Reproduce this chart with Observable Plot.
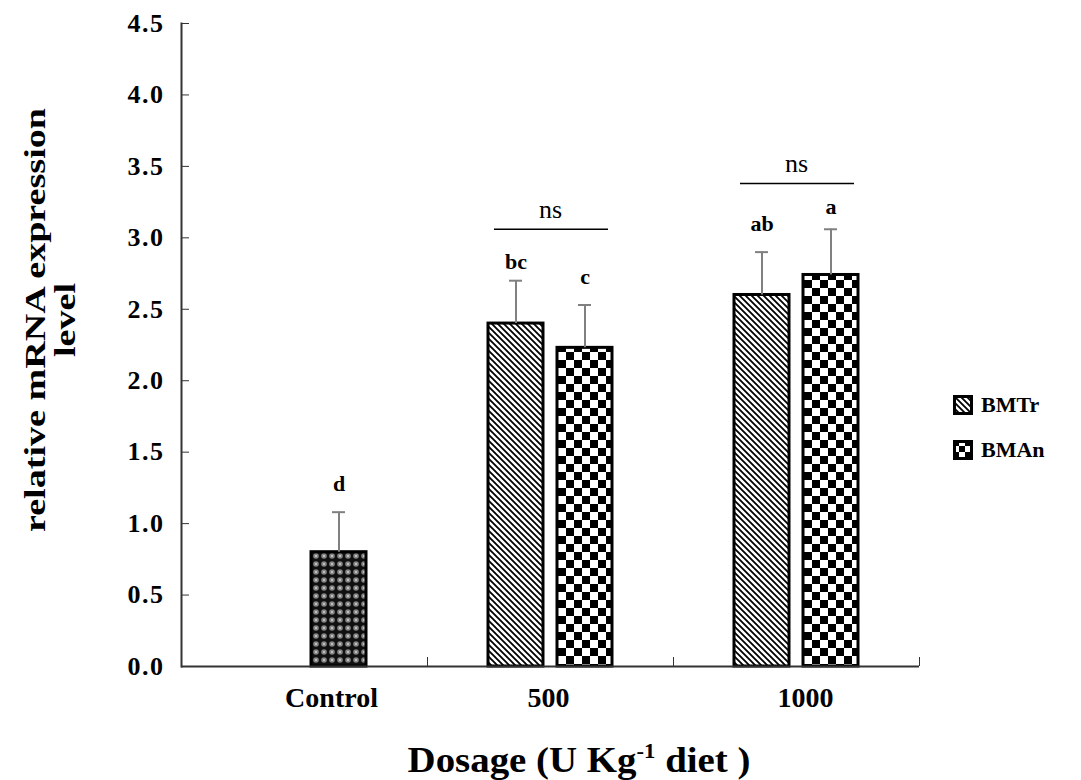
<!DOCTYPE html>
<html><head><meta charset="utf-8">
<script src="https://cdn.jsdelivr.net/npm/d3@7"></script>
<script src="https://cdn.jsdelivr.net/npm/@observablehq/plot@0.6"></script>
<style>
body{margin:0;background:#fff;}
#wrap{position:relative;width:1081px;height:780px;font-family:"Liberation Serif","Times New Roman",serif;color:#000;}
#wrap svg.plot{position:absolute;left:0;top:0;}
#wrap svg.plot g[aria-label="y-axis tick label"]{letter-spacing:1.5px;}
#ytitle{position:absolute;left:50px;top:320px;width:480px;text-align:center;font-weight:bold;font-size:30px;line-height:30px;transform:translate(-50%,-50%) rotate(-90deg) scaleX(1.27);white-space:nowrap;}
#xtitle{position:absolute;left:579px;top:740px;font-weight:bold;font-size:36px;line-height:40px;transform:translateX(-50%) scaleX(1.08);white-space:nowrap;}
#xtitle sup{font-size:21px;vertical-align:0;position:relative;top:-14px;}
#legend{position:absolute;left:953px;top:394px;font-weight:bold;font-size:22px;}
#legend .row{display:flex;align-items:center;height:22px;margin-bottom:23px;}
#legend svg{margin-right:8px;}
</style></head><body>
<svg width="0" height="0" style="position:absolute"><defs>
 <pattern id="pControl" patternUnits="userSpaceOnUse" width="8" height="8">
   <rect width="8" height="8" fill="#101010"/>
   <circle cx="4" cy="4" r="2.8" fill="#858585"/>
   <circle cx="4" cy="4" r="0.9" fill="#d8d8d8"/>
 </pattern>
 <pattern id="pBMTr" patternUnits="userSpaceOnUse" width="6" height="6">
   <rect width="6" height="6" fill="#fff"/>
   <path d="M-1,-1L7,7M-1,5L1,7M5,-1L7,1" stroke="#000" stroke-width="1.8"/>
 </pattern>
 <pattern id="pBMAn" patternUnits="userSpaceOnUse" width="16" height="16">
   <rect width="16" height="16" fill="#fff"/>
   <rect width="8" height="8" fill="#000"/>
   <rect x="8" y="8" width="8" height="8" fill="#000"/>
 </pattern>
 <pattern id="pBMAnLegend" patternUnits="userSpaceOnUse" width="12" height="12">
   <rect width="12" height="12" fill="#fff"/>
   <rect width="6" height="6" fill="#000"/>
   <rect x="6" y="6" width="6" height="6" fill="#000"/>
 </pattern>
</defs></svg>
<div id="wrap">
  <div id="ytitle">relative mRNA expression<br>level</div>
  <div id="xtitle">Dosage (U Kg<sup>-1</sup> diet )</div>
  <div id="legend"></div>
</div>
<script>
// ---- data ----
const categories = ["Control", "500", "1000"];
const doses = ["Control", "500", "500", "1000", "1000"];
const seriesNames = ["Control", "BMTr", "BMAn", "BMTr", "BMAn"];
const means = [0.80, 2.40, 2.23, 2.60, 2.74];
const errors = [0.28, 0.30, 0.30, 0.30, 0.32];
const letters = ["d", "bc", "c", "ab", "a"];
const letterY = [1.23, 2.78, 2.68, 3.05, 3.17];
const nsDoses = ["500", "1000"];
const nsLineY = [3.06, 3.38];
const nsTextY = [3.14, 3.46];
const yTicks = [0, 0.5, 1.0, 1.5, 2.0, 2.5, 3.0, 3.5, 4.0, 4.5];
const legendSeries = ["BMTr", "BMAn"];
const slotOf = {Control: "BMAn", BMTr: "BMTr", BMAn: "BMAn"};

const bars = doses.map((d, i) => ({
  dose: d, series: seriesNames[i], mean: means[i], upper: means[i] + errors[i],
  letter: letters[i], letterY: letterY[i]
}));
const ns = nsDoses.map((d, i) => ({dose: d, lineY: nsLineY[i], textY: nsTextY[i]}));

const axisColor = "#333";
const slot = d => slotOf[d.series];
const catLabel = {anchor: "bottom", tickSize: 0, tickPadding: 21, fontSize: 28, fontWeight: "bold", label: null};
const catTick = {anchor: "bottom", tickSize: 9, dy: -9, tickFormat: () => "", stroke: axisColor, label: null};

const chart = Plot.plot({
  width: 1081, height: 780,
  marginLeft: 181, marginRight: 162, marginTop: 23, marginBottom: 114,
  fx: {domain: categories, paddingInner: 0, paddingOuter: 0, label: null},
  x: {domain: ["BMTr", "BMAn"], paddingInner: 0.2, paddingOuter: 0.88, axis: null},
  y: {domain: [0, 4.5], axis: null},
  color: {type: "identity"},
  style: {fontFamily: "'Liberation Serif', 'Times New Roman', serif", background: "transparent", color: "#000"},
  marks: [
    Plot.barY(bars, {fx: "dose", x: slot, y: "mean", fill: d => `url(#p${d.series})`, stroke: "#000", strokeWidth: 3}),
    Plot.ruleX(bars, {fx: "dose", x: slot, y1: "mean", y2: "upper", stroke: "#808080", strokeWidth: 2}),
    Plot.tickY(bars, {fx: "dose", x: slot, y: "upper", stroke: "#808080", strokeWidth: 2, insetLeft: 21, insetRight: 21}),
    Plot.text(bars, {fx: "dose", x: slot, y: "letterY", text: "letter", lineAnchor: "bottom", fontSize: 22, fontWeight: "bold"}),
    Plot.ruleY(ns, {fx: "dose", y: "lineY", x1: () => "BMTr", x2: () => "BMAn", stroke: "#000", strokeWidth: 1.5, insetLeft: 6, insetRight: 4}),
    Plot.text(ns, {fx: "dose", y: "textY", text: () => "ns", lineAnchor: "bottom", fontSize: 26}),
    Plot.ruleY([0], {stroke: axisColor, strokeWidth: 2}),
    Plot.frame({anchor: "left", facetAnchor: "left", stroke: axisColor, strokeWidth: 2}),
    Plot.axisY({ticks: yTicks, tickFormat: d3.format(".1f"), tickSize: 8, dx: 8, tickPadding: 17, stroke: axisColor, fontSize: 26, fontWeight: "bold", label: null}),
    Plot.axisFx({...catTick, ticks: categories, dx: -123}),
    Plot.axisFx({...catTick, ticks: ["1000"], dx: 123}),
    Plot.axisFx({...catLabel, ticks: ["Control"], dx: 27}),
    Plot.axisFx({...catLabel, ticks: ["500"], dx: -2}),
    Plot.axisFx({...catLabel, ticks: ["1000"], dx: 9})
  ]
});
chart.classList.add("plot");
const wrap = document.getElementById("wrap");
wrap.insertBefore(chart, wrap.firstChild);

const legend = document.getElementById("legend");
legendSeries.forEach(s => {
  const row = document.createElement("div");
  row.className = "row";
  const pid = s === "BMAn" ? "pBMAnLegend" : "p" + s;
  row.innerHTML = `<svg width="20" height="20"><rect x="1.5" y="1.5" width="17" height="17" fill="url(#${pid})" stroke="#000" stroke-width="3"/></svg><span>${s}</span>`;
  legend.appendChild(row);
});
</script>
</body></html>
